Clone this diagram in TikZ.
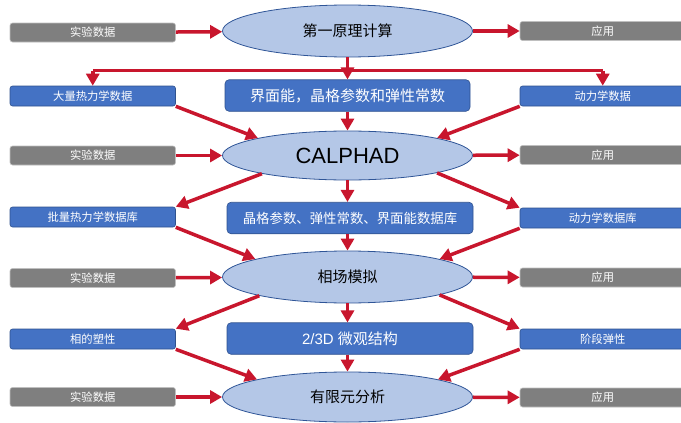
\documentclass[tikz,border=0pt]{standalone}
\usepackage{fontspec}
\setmainfont{Noto Sans CJK SC}
\newfontfamily\arialf{Liberation Sans}
\usetikzlibrary{shapes.geometric,arrows.meta}
\definecolor{arrred}{RGB}{200,22,45}
\definecolor{ellfill}{RGB}{180,199,231}
\definecolor{ellline}{RGB}{47,85,151}
\definecolor{bluebox}{RGB}{68,114,196}
\definecolor{blueline}{RGB}{47,82,143}
\definecolor{greybox}{RGB}{127,127,127}
\definecolor{greyline}{RGB}{191,191,191}
\tikzset{
  ell/.style={ellipse, draw=ellline, line width=0.8pt, fill=ellfill, minimum width=250pt, inner sep=0pt, text=black, font=\fontsize{15}{17}\selectfont},
  sidebox/.style={rectangle, rounded corners=2.5pt, minimum width=165.5pt, inner sep=0pt, text=white, font=\fontsize{11.3}{13}\selectfont},
  greyb/.style={sidebox, fill=greybox, draw=greyline, line width=0.6pt, minimum height=19pt},
  blueb/.style={sidebox, fill=bluebox, draw=blueline, line width=0.6pt, minimum height=20pt},
  midbox/.style={rectangle, rounded corners=4pt, fill=bluebox, draw=blueline, line width=0.6pt, minimum width=246pt, minimum height=31.5pt, inner sep=0pt, text=white, font=\fontsize{15}{17}\selectfont},
  arr/.style={draw=arrred, line width=3.5pt, -{Triangle[length=12pt,width=13pt]}}
}
\begin{document}
\begin{tikzpicture}[x=1pt,y=-1pt]
\useasboundingbox (0,0) rectangle (681,423);
% ellipses
\node[ell, minimum height=52pt] (e1) at (347.5,31) {第一原理计算};
\node[ell, minimum height=49pt, font=\arialf\fontsize{22}{24}\selectfont] (e2) at (347.5,155.5) {CALPHAD};
\node[ell, minimum height=52pt] (e3) at (347.5,277) {相场模拟};
\node[ell, minimum height=50pt] (e4) at (347.5,397) {有限元分析};
% middle boxes
\node[midbox, minimum width=245pt] (m1) at (347.5,95.5) {界面能，晶格参数和弹性常数};
\node[midbox, font=\fontsize{13.4}{15}\selectfont] (m2) at (350,218) {晶格参数、弹性常数、界面能数据库};
\node[midbox] (m3) at (350,338.5) {{\arialf 2/3D }微观结构};
% left boxes
\node[greyb] (l1) at (92.75,32.5) {实验数据};
\node[blueb] (l2) at (92.75,96) {大量热力学数据};
\node[greyb] (l3) at (92.75,155.5) {实验数据};
\node[blueb] (l4) at (92.75,217) {批量热力学数据库};
\node[greyb] (l5) at (92.75,278) {实验数据};
\node[blueb] (l6) at (92.75,339) {相的塑性};
\node[greyb] (l7) at (92.75,397) {实验数据};
% right boxes
\node[greyb] (r1) at (602.75,31) {应用};
\node[blueb] (r2) at (602.75,96) {动力学数据};
\node[greyb] (r3) at (602.75,155) {应用};
\node[blueb] (r4) at (602.75,218) {动力学数据库};
\node[greyb] (r5) at (602.75,277.5) {应用};
\node[blueb] (r6) at (602.75,339) {阶段弹性};
\node[greyb] (r7) at (602.75,397.5) {应用};
% horizontal arrows
\draw[arr] (l1) -- (e1);
\draw[arr] (e1) -- (r1);
\draw[arr] (l3) -- (e2);
\draw[arr] (e2) -- (r3);
\draw[arr] (l5) -- (e3);
\draw[arr] (e3) -- (r5);
\draw[arr] (l7) -- (e4);
\draw[arr] (e4) -- (r7);
% top distribution
\coordinate (j) at (347.5,70.5);
\draw[arr] (e1.south) -- (m1.north);
\draw[draw=arrred, line width=3.5pt] (j -| l2.north) -- (j -| r2.north);
\draw[arr] (j -| l2.north) -- (l2.north);
\draw[arr] (j -| r2.north) -- (r2.north);
% into CALPHAD
\draw[arr] (l2.south east) -- (e2.169);
\draw[arr] (r2.south west) -- (e2.11);
\draw[arr] (m1.south) -- (m1.south |- e2.north);
% out of CALPHAD
\draw[arr] (e2.192) -- (l4.north east);
\draw[arr] (e2.349) -- (r4.north west);
\draw[arr] (e2.south) -- (e2.south |- m2.north);
% into phase field
\draw[arr] (l4.south east) -- (e3.169);
\draw[arr] (r4.south west) -- (e3.11);
\draw[arr] (e2.south |- m2.south) -- (e3.north);
% out of phase field
\draw[arr] (e3.192) -- (l6.north east);
\draw[arr] (e3.349) -- (r6.north west);
\draw[arr] (e3.south) -- (e3.south |- m3.north);
% into FEA
\draw[arr] (l6.south east) -- (e4.169);
\draw[arr] (r6.south west) -- (e4.11);
\draw[arr] (e3.south |- m3.south) -- (e4.north);
\end{tikzpicture}
\end{document}
